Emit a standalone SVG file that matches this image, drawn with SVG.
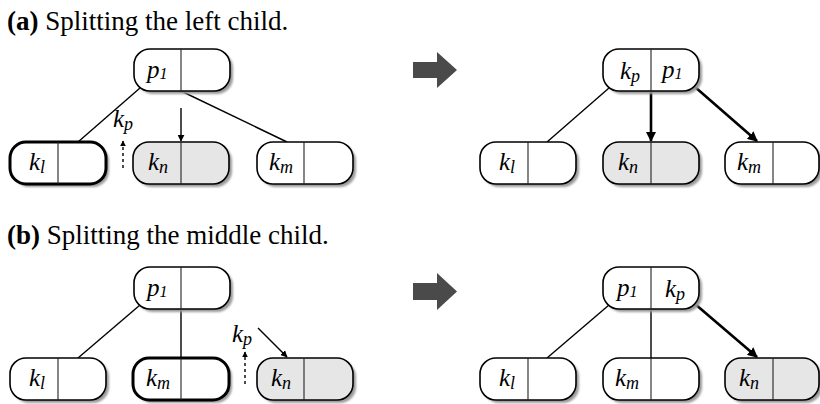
<svg xmlns="http://www.w3.org/2000/svg" width="820" height="404" viewBox="0 0 820 404">
<style>
.title{font-family:"Liberation Serif",serif;font-size:27px;fill:#000}
.lbl{font-family:"Liberation Serif",serif;font-style:italic;font-size:25px;fill:#000}
.sub{font-size:18px}
.one{font-size:16px}
.box{fill:#fff;stroke:#000;stroke-width:1.6}
.bold{stroke-width:3}
.gray{fill:#e6e6e6}
.shadow{fill:#9a9a9a;filter:url(#blur)}
.div{stroke:#222;stroke-width:1.1}
.edge{stroke:#000;stroke-width:1.4;fill:none}
.thick{stroke-width:2.6}
.dash{stroke-dasharray:3 3}
.big{fill:#4a4a4a}
</style>
<defs>
<filter id="blur" x="-10%" y="-20%" width="130%" height="150%"><feGaussianBlur stdDeviation="1"/></filter>
<marker id="ah" viewBox="0 0 10 10" refX="9" refY="5" markerWidth="7" markerHeight="7" markerUnits="userSpaceOnUse" orient="auto"><path d="M0,0 L10,5 L0,10 z" fill="#000"/></marker>
<marker id="ahs" viewBox="0 0 10 10" refX="9" refY="5" markerWidth="6" markerHeight="6" markerUnits="userSpaceOnUse" orient="auto"><path d="M0,0 L10,5 L0,10 z" fill="#000"/></marker>
<marker id="ahb" viewBox="0 0 10 10" refX="9" refY="5" markerWidth="10" markerHeight="10" markerUnits="userSpaceOnUse" orient="auto"><path d="M0,0 L10,5 L0,10 z" fill="#000"/></marker>
</defs>

<text class="title" x="7" y="30"><tspan font-weight="bold">(a)</tspan> Splitting the left child.</text>
<text class="title" x="7" y="244"><tspan font-weight="bold">(b)</tspan> Splitting the middle child.</text>

<g id="connectors">
  <!-- (a) left -->
  <line class="edge" x1="140" y1="88" x2="78" y2="142"/>
  <line class="edge" x1="181" y1="91" x2="287" y2="142"/>
  <line class="edge" x1="181" y1="108" x2="181" y2="141" marker-end="url(#ah)"/>
  <line class="edge dash" x1="123" y1="168" x2="123" y2="141" marker-end="url(#ahs)"/>
  <!-- (a) right -->
  <line class="edge" x1="609" y1="88" x2="547" y2="142"/>
  <line class="edge thick" x1="651" y1="91" x2="651" y2="141" marker-end="url(#ahb)"/>
  <line class="edge thick" x1="695" y1="87" x2="757" y2="141" marker-end="url(#ahb)"/>
  <!-- (b) left -->
  <line class="edge" x1="140" y1="305" x2="78" y2="358"/>
  <line class="edge" x1="181" y1="309" x2="181" y2="358"/>
  <line class="edge" x1="258" y1="328" x2="287" y2="357" marker-end="url(#ah)"/>
  <line class="edge dash" x1="245" y1="384" x2="245" y2="352" marker-end="url(#ahs)"/>
  <!-- (b) right -->
  <line class="edge" x1="609" y1="305" x2="547" y2="358"/>
  <line class="edge" x1="651" y1="309" x2="651" y2="358"/>
  <line class="edge thick" x1="695" y1="304" x2="757" y2="357" marker-end="url(#ahb)"/>
</g>

<g id="arrow-a"><path class="big" d="M413,62 H437 V52 L457,70 L437,88 V78 H413 z"/></g>
<g id="arrow-b"><path class="big" d="M413,283 H437 V273 L457,291.5 L437,310 V300 H413 z"/></g>

<g id="label-kp-a"><text class="lbl" x="113" y="127">k<tspan class="sub" dy="3">p</tspan></text></g>
<g id="label-kp-b"><text class="lbl" x="232" y="342">k<tspan class="sub" dy="3">p</tspan></text></g>

<!-- (a) left tree -->
<g id="a-l-parent">
  <rect class="shadow" x="137" y="52" width="96" height="42" rx="16"/>
  <rect class="box" x="134" y="49" width="96" height="42" rx="16"/>
  <line class="div" x1="181" y1="49" x2="181" y2="91"/>
  <text class="lbl" x="147" y="78">p<tspan class="one" dy="1">1</tspan></text>
</g>
<g id="a-l-kl">
  <rect class="shadow" x="13" y="145" width="96" height="42" rx="16"/>
  <rect class="box bold" x="10" y="142" width="96" height="42" rx="16"/>
  <line class="div" x1="58" y1="142" x2="58" y2="184"/>
  <text class="lbl" x="29" y="170">k<tspan class="sub" dy="3">l</tspan></text>
</g>
<g id="a-l-kn">
  <rect class="shadow" x="136" y="145" width="96" height="42" rx="16"/>
  <rect class="box gray" x="133" y="142" width="96" height="42" rx="16"/>
  <line class="div" x1="181" y1="142" x2="181" y2="184"/>
  <text class="lbl" x="148" y="170">k<tspan class="sub" dy="3">n</tspan></text>
</g>
<g id="a-l-km">
  <rect class="shadow" x="260" y="145" width="96" height="42" rx="16"/>
  <rect class="box" x="257" y="142" width="96" height="42" rx="16"/>
  <line class="div" x1="304" y1="142" x2="304" y2="184"/>
  <text class="lbl" x="269" y="170">k<tspan class="sub" dy="3">m</tspan></text>
</g>

<!-- (a) right tree -->
<g id="a-r-parent">
  <rect class="shadow" x="606" y="52" width="96" height="42" rx="16"/>
  <rect class="box" x="603" y="49" width="96" height="42" rx="16"/>
  <line class="div" x1="651" y1="49" x2="651" y2="91"/>
  <text class="lbl" x="620" y="79">k<tspan class="sub" dy="3">p</tspan></text>
  <text class="lbl" x="662" y="78">p<tspan class="one" dy="1">1</tspan></text>
</g>
<g id="a-r-kl">
  <rect class="shadow" x="483" y="145" width="96" height="42" rx="16"/>
  <rect class="box" x="480" y="142" width="96" height="42" rx="16"/>
  <line class="div" x1="528" y1="142" x2="528" y2="184"/>
  <text class="lbl" x="499" y="170">k<tspan class="sub" dy="3">l</tspan></text>
</g>
<g id="a-r-kn">
  <rect class="shadow" x="606" y="145" width="96" height="42" rx="16"/>
  <rect class="box gray" x="603" y="142" width="96" height="42" rx="16"/>
  <line class="div" x1="651" y1="142" x2="651" y2="184"/>
  <text class="lbl" x="618" y="170">k<tspan class="sub" dy="3">n</tspan></text>
</g>
<g id="a-r-km">
  <rect class="shadow" x="728" y="145" width="94" height="42" rx="16"/>
  <rect class="box" x="725" y="142" width="94" height="42" rx="16"/>
  <line class="div" x1="773" y1="142" x2="773" y2="184"/>
  <text class="lbl" x="737" y="170">k<tspan class="sub" dy="3">m</tspan></text>
</g>

<!-- (b) left tree -->
<g id="b-l-parent">
  <rect class="shadow" x="137" y="270" width="96" height="42" rx="16"/>
  <rect class="box" x="134" y="267" width="96" height="42" rx="16"/>
  <line class="div" x1="181" y1="267" x2="181" y2="309"/>
  <text class="lbl" x="147" y="296">p<tspan class="one" dy="1">1</tspan></text>
</g>
<g id="b-l-kl">
  <rect class="shadow" x="13" y="361" width="96" height="42" rx="16"/>
  <rect class="box" x="10" y="358" width="96" height="42" rx="16"/>
  <line class="div" x1="58" y1="358" x2="58" y2="400"/>
  <text class="lbl" x="29" y="386">k<tspan class="sub" dy="3">l</tspan></text>
</g>
<g id="b-l-km">
  <rect class="shadow" x="136" y="361" width="96" height="42" rx="16"/>
  <rect class="box bold" x="133" y="358" width="96" height="42" rx="16"/>
  <line class="div" x1="181" y1="358" x2="181" y2="400"/>
  <text class="lbl" x="146" y="386">k<tspan class="sub" dy="3">m</tspan></text>
</g>
<g id="b-l-kn">
  <rect class="shadow" x="260" y="361" width="96" height="42" rx="16"/>
  <rect class="box gray" x="257" y="358" width="96" height="42" rx="16"/>
  <line class="div" x1="304" y1="358" x2="304" y2="400"/>
  <text class="lbl" x="271" y="386">k<tspan class="sub" dy="3">n</tspan></text>
</g>

<!-- (b) right tree -->
<g id="b-r-parent">
  <rect class="shadow" x="606" y="270" width="96" height="42" rx="16"/>
  <rect class="box" x="603" y="267" width="96" height="42" rx="16"/>
  <line class="div" x1="651" y1="267" x2="651" y2="309"/>
  <text class="lbl" x="617" y="296">p<tspan class="one" dy="1">1</tspan></text>
  <text class="lbl" x="665" y="297">k<tspan class="sub" dy="3">p</tspan></text>
</g>
<g id="b-r-kl">
  <rect class="shadow" x="483" y="361" width="96" height="42" rx="16"/>
  <rect class="box" x="480" y="358" width="96" height="42" rx="16"/>
  <line class="div" x1="528" y1="358" x2="528" y2="400"/>
  <text class="lbl" x="499" y="386">k<tspan class="sub" dy="3">l</tspan></text>
</g>
<g id="b-r-km">
  <rect class="shadow" x="606" y="361" width="96" height="42" rx="16"/>
  <rect class="box" x="603" y="358" width="96" height="42" rx="16"/>
  <line class="div" x1="651" y1="358" x2="651" y2="400"/>
  <text class="lbl" x="615" y="386">k<tspan class="sub" dy="3">m</tspan></text>
</g>
<g id="b-r-kn">
  <rect class="shadow" x="728" y="361" width="94" height="42" rx="16"/>
  <rect class="box gray" x="725" y="358" width="94" height="42" rx="16"/>
  <line class="div" x1="773" y1="358" x2="773" y2="400"/>
  <text class="lbl" x="739" y="386">k<tspan class="sub" dy="3">n</tspan></text>
</g>
</svg>
